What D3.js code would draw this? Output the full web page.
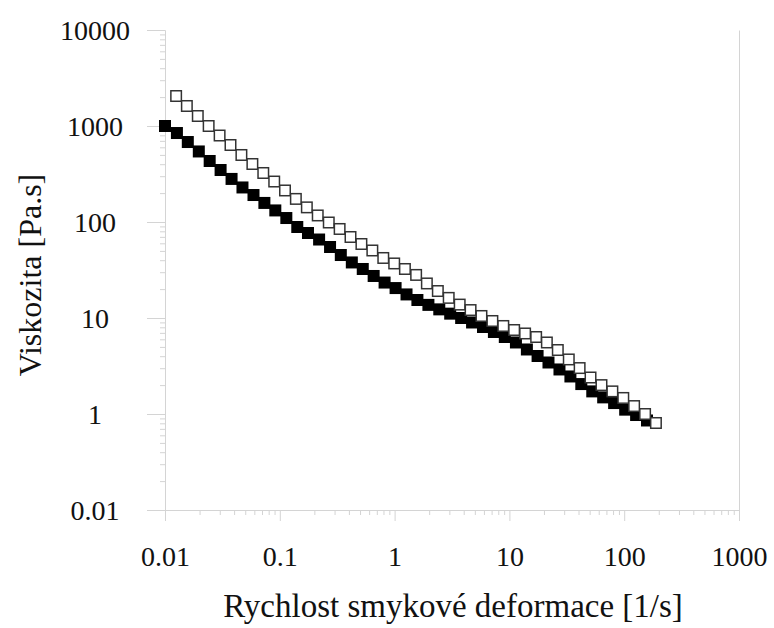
<!DOCTYPE html>
<html>
<head>
<meta charset="utf-8">
<script src="https://cdn.jsdelivr.net/npm/d3@7"></script>
<style>
  body { margin: 0; background: #fff; }
  svg text { font-family: "Liberation Serif", "Times New Roman", serif; fill: #111; }
</style>
</head>
<body>
<div id="chart-area"></div>
<script>
// shear rate [1/s] and viscosity [Pa.s], filled squares
const filledRate = [0.01, 0.0127, 0.0158, 0.0197, 0.0245, 0.0305, 0.038, 0.0473, 0.059, 0.0734,
  0.0914, 0.114, 0.142, 0.176, 0.22, 0.274, 0.34, 0.424, 0.528, 0.657,
  0.818, 1.02, 1.27, 1.58, 1.97, 2.45, 3.05, 3.8, 4.73, 5.89,
  7.33, 9.12, 11.4, 14.2, 17.6, 21.9, 27.3, 34, 42.3, 52.7,
  65.6, 81.7, 102, 127, 158]
const filledVisc = [1000, 845, 681, 543, 432, 348, 281, 229, 191, 158,
  132, 110, 88.7, 76.8, 65.7, 54.9, 45.3, 37.9, 32.4, 27.4,
  23.4, 20.5, 17.6, 15.4, 13.7, 12.3, 11.1, 10.0, 8.98, 8.06,
  7.15, 6.34, 5.56, 4.70, 4.02, 3.44, 2.91, 2.46, 2.05, 1.72,
  1.49, 1.30, 1.11, 0.976, 0.856]

// open squares
const openRate = [0.0125, 0.0155, 0.0193, 0.024, 0.0299, 0.0372, 0.0463, 0.0577, 0.0718, 0.0894,
  0.111, 0.138, 0.172, 0.214, 0.267, 0.332, 0.413, 0.514, 0.64, 0.797,
  0.992, 1.23, 1.54, 1.91, 2.38, 2.96, 3.69, 4.59, 5.71, 7.11,
  8.85, 11.0, 13.7, 17.1, 21.2, 26.4, 32.9, 40.9, 50.9, 63.4,
  78.9, 98.2, 122, 152, 189]
const openVisc = [2053, 1616, 1271, 1000, 796, 634, 499, 402, 324, 264,
  213, 174, 142, 117, 98.8, 84.6, 69.8, 59.0, 50.5, 42.2,
  37.0, 32.4, 28.1, 22.9, 19.1, 16.2, 13.8, 12.1, 10.5, 9.31,
  8.26, 7.50, 6.90, 6.34, 5.56, 4.64, 3.70, 3.01, 2.40, 2.00,
  1.72, 1.47, 1.21, 1.00, 0.806]

const xTicks = [0.01, 0.1, 1, 10, 100, 1000]
const xTickLabels = ["0.01", "0.1", "1", "10", "100", "1000"]
const yTicks = [0.1, 1, 10, 100, 1000, 10000]
const yTickLabels = ["0.01", "1", "10", "100", "1000", "10000"]

const xTitle = "Rychlost smykové deformace [1/s]"
const yTitle = "Viskozita [Pa.s]"

const svgWidth = 774
const svgHeight = 628
const plot = { left: 165, right: 739, top: 30, bottom: 510 }

const svg = d3.select("#chart-area")
  .append("svg")
  .attr("width", svgWidth)
  .attr("height", svgHeight)

const x = d3.scaleLog().domain([0.01, 1000]).range([plot.left, plot.right])
const y = d3.scaleLog().domain([0.1, 10000]).range([plot.bottom, plot.top])

// minor ticks, 2..9 in each decade
const minorX = []
for (let d = 0.01; d < 1000; d *= 10) for (let k = 2; k < 10; k++) minorX.push(d * k)
const minorY = []
for (let d = 0.1; d < 10000; d *= 10) for (let k = 2; k < 10; k++) minorY.push(d * k)

const axisColor = "#d4d4d4"

function styleAxis(g) {
  g.select(".domain").attr("stroke", axisColor)
  g.selectAll(".tick line").attr("stroke", axisColor)
}

// minor ticks
svg.append("g")
  .attr("transform", `translate(0,${plot.bottom})`)
  .call(d3.axisBottom(x).tickValues(minorX).tickFormat("").tickSize(5).tickSizeOuter(0))
  .call(styleAxis)

svg.append("g")
  .attr("transform", `translate(${plot.left},0)`)
  .call(d3.axisLeft(y).tickValues(minorY).tickFormat("").tickSize(5).tickSizeOuter(0))
  .call(styleAxis)

// major ticks + labels
const xAxis = svg.append("g")
  .attr("transform", `translate(0,${plot.bottom})`)
  .call(d3.axisBottom(x).tickValues(xTicks).tickFormat((d, i) => xTickLabels[i]).tickSize(11).tickSizeOuter(0))
  .call(styleAxis)
xAxis.selectAll(".tick text")
  .attr("y", 56)
  .attr("dy", 0)
  .style("font-size", "28px")
  .style("font-family", "'Liberation Serif', serif")
  .attr("fill", "#111")

const yAxis = svg.append("g")
  .attr("transform", `translate(${plot.left},0)`)
  .call(d3.axisLeft(y).tickValues(yTicks).tickFormat((d, i) => yTickLabels[i]).tickSize(18).tickSizeOuter(0))
  .call(styleAxis)
yAxis.selectAll(".tick text")
  .attr("x", -70)
  .attr("dy", 9.5)
  .attr("text-anchor", "middle")
  .style("font-size", "28px")
  .style("font-family", "'Liberation Serif', serif")
  .attr("fill", "#111")

// right frame line
svg.append("g")
  .attr("transform", `translate(${plot.right},0)`)
  .call(d3.axisRight(y).tickValues([]).tickSizeOuter(0))
  .call(styleAxis)

// data
const size = 12
const filled = filledRate.map((r, i) => ({ r: r, v: filledVisc[i] }))
const open = openRate.map((r, i) => ({ r: r, v: openVisc[i] }))

svg.append("g").selectAll("rect")
  .data(filled)
  .enter().append("rect")
  .attr("x", d => x(d.r) - size / 2)
  .attr("y", d => y(d.v) - size / 2)
  .attr("width", size)
  .attr("height", size)
  .attr("fill", "#000")

svg.append("g").selectAll("rect")
  .data(open)
  .enter().append("rect")
  .attr("x", d => x(d.r) - size / 2 + 0.75)
  .attr("y", d => y(d.v) - size / 2 + 0.75)
  .attr("width", size - 1.5)
  .attr("height", size - 1.5)
  .attr("fill", "#fff")
  .attr("stroke", "#333")
  .attr("stroke-width", 1.5)

// titles
svg.append("text")
  .attr("x", 453)
  .attr("y", 617)
  .attr("text-anchor", "middle")
  .style("font-size", "33px")
  .text(xTitle)

svg.append("text")
  .attr("transform", "translate(41,275) rotate(-90)")
  .attr("text-anchor", "middle")
  .style("font-size", "32px")
  .text(yTitle)
</script>
</body>
</html>
